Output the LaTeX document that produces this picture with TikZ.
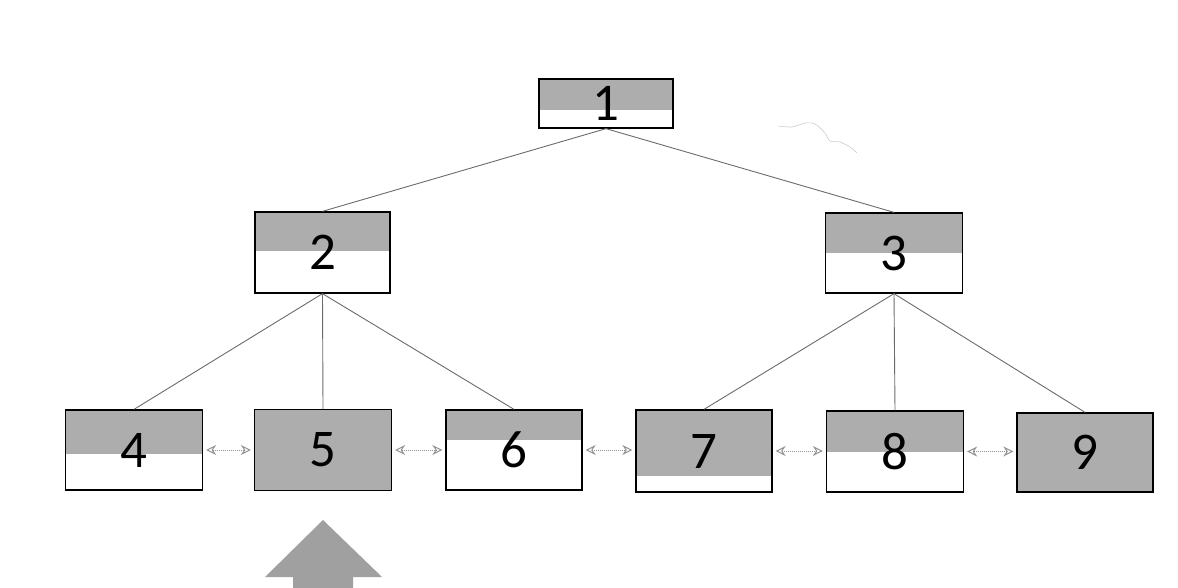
\documentclass[tikz,border=0pt]{standalone}
\usepackage{fontspec}
\setmainfont{Carlito}
\usetikzlibrary{calc,arrows.meta}
\definecolor{cellgray}{gray}{0.68}
\definecolor{edgegray}{gray}{0.42}
\tikzset{
  cell/.style={draw=black, line width=1.3pt, inner sep=0pt,
    font=\fontsize{53}{53}\selectfont,
    path picture={\fill[cellgray] (path picture bounding box.north west) rectangle
      ($(path picture bounding box.north east)!#1!(path picture bounding box.south east)$);}},
  dims/.style 2 args={minimum width=#1pt, minimum height=#2pt},
  edge/.style={draw=edgegray, line width=0.9pt},
  sib/.style={draw=gray!85, line width=1pt, densely dotted,
    {Stealth[open,length=10pt,width=10pt,line width=1pt]}-{Stealth[open,length=10pt,width=10pt,line width=1pt]},
    shorten <=3pt, shorten >=3pt},
}
\begin{document}
\begin{tikzpicture}[x=1pt,y=-1pt]
  \useasboundingbox (0,0) rectangle (1178,588);
  % tree nodes
  \node[cell=0.63, dims={134}{49}] (n1) at (606,103.5) {1};
  \node[cell=0.48, dims={135}{81}] (n2) at (322.5,252.5) {2};
  \node[cell=0.50, dims={137}{80}] (n3) at (894,253) {3};
  \node[cell=0.55, dims={137}{80}] (n4) at (134,450) {4};
  \node[cell=1.00, dims={137}{81}] (n5) at (323,450) {5};
  \node[cell=0.375,dims={136}{80}] (n6) at (514,450) {6};
  \node[cell=0.80, dims={136}{82}] (n7) at (704,451) {7};
  \node[cell=0.51, dims={137}{81}] (n8) at (895,451.5) {8};
  \node[cell=1.00, dims={136}{79}] (n9) at (1085,452.5) {9};
  % parent-child links
  \draw[edge] (n1.south) -- (n2.north);
  \draw[edge] (n1.south) -- (n3.north);
  \draw[edge] (n2.south) -- (n4.north);
  \draw[edge] (n2.south) -- (n5.north);
  \draw[edge] (n2.south) -- (n6.north);
  \draw[edge] (n3.south) -- (n7.north);
  \draw[edge] (n3.south) -- (n8.north);
  \draw[edge] (n3.south) -- (n9.north);
  % sibling links
  \draw[sib] (n4.east) -- (n4.east -| n5.west);
  \draw[sib] (n5.east) -- (n5.east -| n6.west);
  \draw[sib] (n6.east) -- (n6.east -| n7.west);
  \draw[sib] (n7.east) -- (n7.east -| n8.west);
  \draw[sib] (n8.east) -- (n8.east -| n9.west);
  % pointer arrow under node 5
  \fill[cellgray!92!black] (323,520) -- (382,577) -- (353,577) -- (353,590)
    -- (293,590) -- (293,577) -- (265,577) -- cycle;
  % faint stroke near the top right
  \draw[gray!40, line width=0.6pt] plot[smooth] coordinates
    {(778,126) (792,127) (805,123) (815,124) (825,133) (830,141) (840,142) (850,147) (857,153)};
\end{tikzpicture}
\end{document}
